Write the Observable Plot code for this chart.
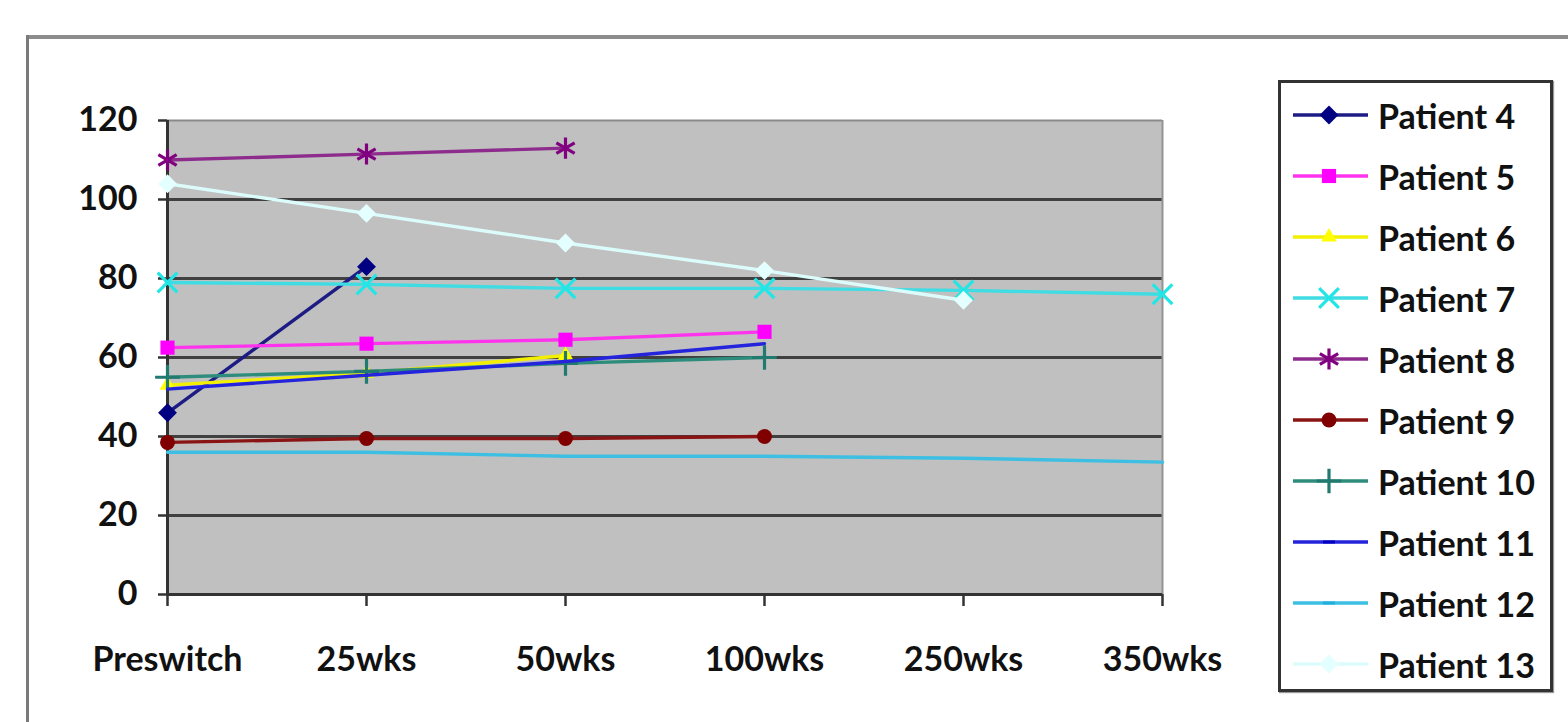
<!DOCTYPE html>
<html>
<head>
<meta charset="utf-8">
<script src="https://cdn.jsdelivr.net/npm/d3@7"></script>
<script src="https://cdn.jsdelivr.net/npm/@observablehq/plot@0.6"></script>
<style>
  html, body { margin: 0; padding: 0; background: #fff; }
  #wrap { position: relative; width: 1568px; height: 722px; overflow: hidden; background: #fff; font-family: Lato, "Open Sans", sans-serif; }
  #chart { position: absolute; left: 0; top: 0; }
  .bTop { position: absolute; left: 26px; top: 35px; width: 1560px; height: 4px; background: #8c8c8c; }
  .bLeft { position: absolute; left: 26px; top: 35px; width: 3px; height: 700px; background: #7a7a7a; }
  #legend { position: absolute; left: 1278px; top: 80px; width: 275px; height: 612px; border: 3px solid #333; box-sizing: border-box; background: #fff; padding-top: 1.5px; box-shadow: 1px 1px 1px #999; }
  .row { display: flex; align-items: center; height: 61px; }
  .row span { margin-left: 7px; font-weight: 700; font-size: 34px; color: #111; white-space: nowrap; }
</style>
</head>
<body>
<div id="wrap">
  <div class="bTop"></div>
  <div class="bLeft"></div>
  <div id="chart"></div>
  <div id="legend"></div>
</div>
<script>
// ---- data ----
const times = ["Preswitch", "25wks", "50wks", "100wks", "250wks", "350wks"];
const yTicks = [0, 20, 40, 60, 80, 100, 120];
const patients = ["Patient 4", "Patient 5", "Patient 6", "Patient 7", "Patient 8", "Patient 9", "Patient 10", "Patient 11", "Patient 12", "Patient 13"];
const patient4  = [46, 83, null, null, null, null];
const patient5  = [62.5, 63.5, 64.5, 66.5, null, null];
const patient6  = [53, 56, 60.5, null, null, null];
const patient7  = [79, 78.5, 77.5, 77.5, 77, 76];
const patient8  = [110, 111.5, 113, null, null, null];
const patient9  = [38.5, 39.5, 39.5, 40, null, null];
const patient10 = [55, 56.5, 58.5, 60, null, null];
const patient11 = [52, 55.5, 59, 63.5, null, null];
const patient12 = [36, 36, 35, 35, 34.5, 33.5];
const patient13 = [104, 96.5, 89, 82, 74.5, null];
const seriesValues = [patient4, patient5, patient6, patient7, patient8, patient9, patient10, patient11, patient12, patient13];

// ---- styles ----
const lineColors   = ["#1c1c84", "#ff33ee", "#f2f000", "#3fdde3", "#8e2c8e", "#8a1414", "#2e8c7c", "#2424dc", "#3cbfe2", "#dcfbfb"];
const markColors   = ["#000080", "#ff00ff", "#ffff00", "#22e6e6", "#800080", "#800000", "#207a70", "#0000c0", "#20b0dc", "#e4ffff"];
const markSymbols  = ["diamond2", "square2", "triangle2", "times", "asterisk", "circle", "plus", null, null, "diamond2"];
const strokeSymbols = new Set(["times", "asterisk", "plus"]);
const markR        = [8.5, 9, 7.5, 9, 10, 7.5, 8, 0, 0, 8.5];

const rows = [];
patients.forEach((p, i) => {
  seriesValues[i].forEach((v, j) => {
    if (v !== null) rows.push({patient: p, time: times[j], value: v});
  });
});

const marks = [
  Plot.frame({fill: "#c0c0c0", stroke: null}),
  Plot.ruleY([20, 40, 60, 80, 100], {stroke: "#404040", strokeWidth: 3}),
  Plot.ruleY([120], {stroke: "#8a8a8a", strokeWidth: 2}),
  Plot.ruleX([times[times.length - 1]], {stroke: "#939393", strokeWidth: 2}),
  Plot.ruleY([0], {stroke: "#333", strokeWidth: 3}),
  Plot.ruleX([times[0]], {stroke: "#333", strokeWidth: 3}),
  Plot.axisY({ticks: yTicks, tickSize: 9, tickPadding: 21, stroke: "#333", strokeWidth: 2.5, fontSize: 34, fontWeight: "bold", fill: "#111", tickFormat: d => d}),
  Plot.axisX({tickSize: 12, tickPadding: 40, stroke: "#333", strokeWidth: 2.5, fontSize: 34, fontWeight: "bold", fill: "#111"})
];

patients.forEach((p, i) => {
  const data = rows.filter(d => d.patient === p);
  marks.push(Plot.line(data, {x: "time", y: "value", stroke: lineColors[i], strokeWidth: 3.4}));
  const s = markSymbols[i];
  if (s) {
    if (strokeSymbols.has(s)) {
      marks.push(Plot.dot(data, {x: "time", y: "value", symbol: () => s, r: markR[i], stroke: markColors[i], strokeWidth: 3.2}));
    } else {
      marks.push(Plot.dot(data, {x: "time", y: "value", symbol: () => s, r: markR[i], fill: markColors[i], stroke: null}));
    }
  }
});

const chart = Plot.plot({
  width: 1568,
  height: 722,
  marginLeft: 167,
  marginRight: 406,
  marginTop: 120,
  marginBottom: 128,
  style: {background: "transparent", fontFamily: "Lato, 'Open Sans', sans-serif", overflow: "visible"},
  x: {type: "point", domain: times, padding: 0, label: null},
  y: {domain: [0, 120], label: null},
  symbol: {type: "identity"},
  marks
});
document.getElementById("chart").appendChild(chart);

// ---- legend ----
const legend = d3.select("#legend");
const symMap = {diamond2: d3.symbolDiamond2, square2: d3.symbolSquare2, triangle2: d3.symbolTriangle2, times: d3.symbolTimes, asterisk: d3.symbolAsterisk, circle: d3.symbolCircle, plus: d3.symbolPlus};
patients.forEach((p, i) => {
  const row = legend.append("div").attr("class", "row");
  const svg = row.append("svg").attr("width", 90).attr("height", 30);
  svg.append("line").attr("x1", 12).attr("x2", 87).attr("y1", 15).attr("y2", 15)
    .attr("stroke", lineColors[i]).attr("stroke-width", 3.4);
  const s = markSymbols[i];
  if (s) {
    const path = d3.symbol(symMap[s], Math.PI * markR[i] * markR[i])();
    const el = svg.append("path").attr("d", path).attr("transform", "translate(48,15)");
    if (strokeSymbols.has(s)) el.attr("fill", "none").attr("stroke", markColors[i]).attr("stroke-width", 3.2);
    else el.attr("fill", markColors[i]);
  } else {
    svg.append("rect").attr("x", 42).attr("y", 13.5).attr("width", 12).attr("height", 3).attr("fill", markColors[i]);
  }
  row.append("span").text(p);
});
</script>
</body>
</html>
